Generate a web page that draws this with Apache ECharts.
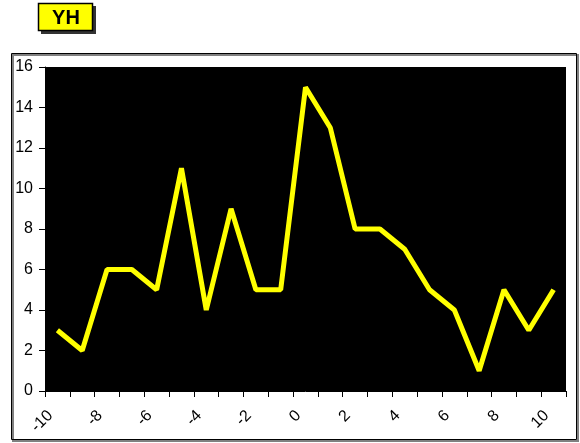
<!DOCTYPE html>
<html><head><meta charset="utf-8">
<script src="https://cdn.jsdelivr.net/npm/echarts@6/dist/echarts.min.js"></script>
<style>html,body{margin:0;padding:0;background:#fff}#c{width:580px;height:443px}</style>
</head><body><div id="c"></div>
<script>
const categories = ['-10','-9','-8','-7','-6','-5','-4','-3','-2','-1','0','1','2','3','4','5','6','7','8','9','10'];
const values = [3,2,6,6,5,11,4,9,5,5,15,13,8,8,7,5,4,1,5,3,5];
const seriesName = 'YH';
const chart = echarts.init(document.getElementById('c'));
chart.setOption({
  animation: false,
  backgroundColor: '#fff',
  graphic: [
    {type:'rect', shape:{x:13,y:55,width:565,height:386}, style:{fill:'none', stroke:'#808080', lineWidth:2}},
    {type:'rect', shape:{x:11.5,y:53.5,width:565,height:386}, style:{fill:'none', stroke:'#000', lineWidth:1}},
    {type:'rect', shape:{x:41,y:6,width:55,height:28}, style:{fill:'#333'}},
    {type:'rect', shape:{x:38.5,y:3.5,width:54,height:27}, style:{fill:'#ffff00', stroke:'#000', lineWidth:1.5}},
    {type:'text', style:{x:66,y:18,text:seriesName, fill:'#000', font:'bold 20px Arial, "Liberation Sans"', align:'center', verticalAlign:'middle'}}
  ],
  grid: {left:45, top:67, right:14, bottom:52, show:true, backgroundColor:'#000', borderWidth:0},
  xAxis: {
    type:'category', data: categories, boundaryGap:true,
    axisLine:{show:true, lineStyle:{color:'#000'}},
    axisTick:{show:true, interval:0, length:6, lineStyle:{color:'#000'}},
    axisLabel:{interval:1, rotate:45, color:'#000', fontSize:16, fontFamily:'Arial, "Liberation Sans"', margin:15, padding:[0,10,0,0]}
  },
  yAxis: {
    type:'value', min:0, max:16, interval:2,
    splitLine:{show:false},
    axisLine:{show:true, lineStyle:{color:'#000'}},
    axisTick:{show:true, length:6, lineStyle:{color:'#000'}},
    axisLabel:{color:'#000', fontSize:16, fontFamily:'Arial, "Liberation Sans"', margin:12}
  },
  series: [{
    name: seriesName, type:'line', data: values, showSymbol:false, symbol:'none',
    lineStyle:{color:'#ffff00', width:5}, itemStyle:{color:'#ffff00'}
  }]
});
</script></body></html>
